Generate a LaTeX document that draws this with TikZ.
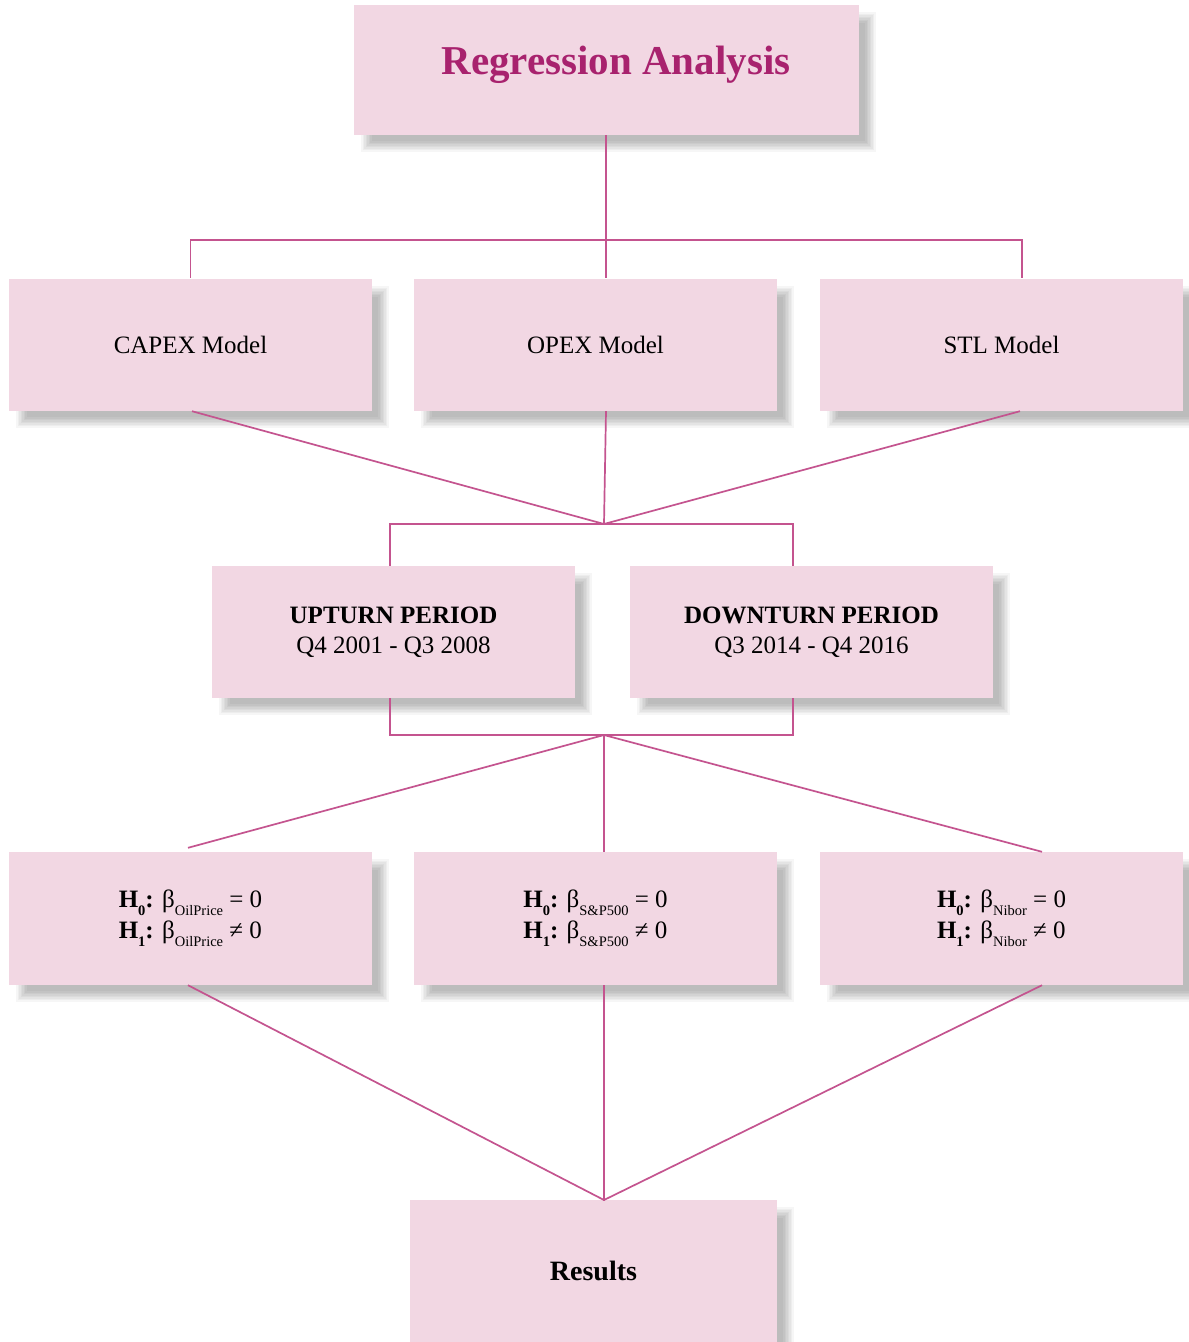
\documentclass[tikz,border=0pt]{standalone}
\usepackage{fontspec}
\setmainfont{Liberation Serif}
\usetikzlibrary{calc,backgrounds}
\definecolor{boxfill}{HTML}{F2D7E3}
\definecolor{linecol}{HTML}{C4548F}
\definecolor{titlecol}{HTML}{A8226E}
\newcommand{\sbs}[1]{\raisebox{-0.3em}{\fontsize{14.5}{15}\selectfont #1}}
\newcommand{\hypo}[1]{\textbf{H}\sbs{\textbf{0}}\textbf{:} β\sbs{#1} = 0\\\textbf{H}\sbs{\textbf{1}}\textbf{:} β\sbs{#1} ≠ 0}
\newcommand{\boxshadow}[1]{\foreach \d in {-4.5,-3,...,6} {\fill[black,opacity=0.035] ($(#1.south west)+(12+\d,-12+\d)$) rectangle ($(#1.north east)+(12-\d,-12-\d)$);}}
\begin{document}
\begin{tikzpicture}[x=1pt,y=1pt,
  box/.style={fill=boxfill, draw=none, minimum width=363pt, minimum height=132pt, inner sep=0pt,
    font=\fontsize{25}{30}\selectfont, align=center},
  hyp/.style={box, font=\fontsize{25}{31}\selectfont, align=left},
  conn/.style={draw=linecol, line width=1.7pt}]
\begin{scope}[on background layer]
\fill[white] (0,0) rectangle (1189,-1342);
\end{scope}
\useasboundingbox (0,0) rectangle (1189,-1342);
% boxes
\node[box, minimum width=505pt, minimum height=130pt] (title) at (606.5,-70) {};
\node[font=\fontsize{41}{48}\selectfont\bfseries, text=titlecol] (titletext) at (616,-65) {Regression Analysis};
\node[box] (capex) at (190.5,-345) {CAPEX Model};
\node[box] (opex) at (595.5,-345) {OPEX Model};
\node[box] (stl) at (1001.5,-345) {STL Model};
\node[box] (up) at (393.5,-632) {\textbf{UPTURN PERIOD}\\Q4 2001 - Q3 2008};
\node[box] (down) at (811.5,-632) {\textbf{DOWNTURN PERIOD}\\Q3 2014 - Q4 2016};
\node[hyp, minimum height=133pt] (hA) at (190.5,-918.5) {\hypo{OilPrice}};
\node[hyp, minimum height=133pt] (hB) at (595.5,-918.5) {\hypo{S\&P500}};
\node[hyp, minimum height=133pt] (hC) at (1001.5,-918.5) {\hypo{Nibor}};
\node[box, minimum width=367pt, minimum height=142pt, font=\fontsize{28}{33}\selectfont\bfseries] (res) at (593.5,-1271) {Results};
% shadows
\begin{scope}[on background layer]
\foreach \n in {title,capex,opex,stl,up,down,hA,hB,hC,res} {\boxshadow{\n}}
\end{scope}
% junctions
\coordinate (j1) at (606,-240);
\coordinate (m1) at (604,-524);
\coordinate (m2) at (604,-735);
\coordinate (m3) at (604,-1200);
% connectors
\draw[conn] ([xshift=-0.5pt]title.south) -- (j1) -- ([xshift=10.5pt,yshift=1pt]opex.north);
\draw[conn] ([yshift=1pt]capex.north) |- (j1) -| ([xshift=20.5pt,yshift=1pt]stl.north);
\draw[conn] ([xshift=1.5pt]capex.south) -- (m1);
\draw[conn] ([xshift=10.5pt]opex.south) -- (m1);
\draw[conn] ([xshift=18.5pt]stl.south) -- (m1);
\draw[conn] ([xshift=-3.5pt]up.north) |- (m1) -| ([xshift=-18.5pt]down.north);
\draw[conn] ([xshift=-3.5pt]up.south) |- (m2) -| ([xshift=-18.5pt]down.south);
\draw[conn] (m2) -- ([xshift=-2.5pt,yshift=4pt]hA.north);
\draw[conn] (m2) -- ([xshift=8.5pt]hB.north);
\draw[conn] (m2) -- ([xshift=40.5pt]hC.north);
\draw[conn] ([xshift=-2.5pt]hA.south) -- (m3);
\draw[conn] ([xshift=8.5pt]hB.south) -- (m3);
\draw[conn] ([xshift=40.5pt]hC.south) -- (m3);
\draw[conn] (m3) -- ([xshift=10.5pt]res.north);
\end{tikzpicture}
\end{document}
